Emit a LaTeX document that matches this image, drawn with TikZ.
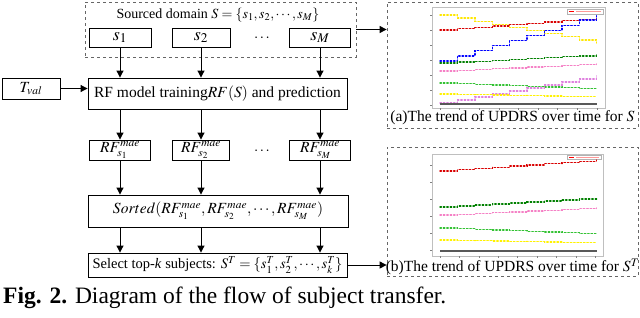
\documentclass[tikz,border=0pt]{standalone}
\usepackage{mathptmx}
\usepackage{fontspec}
\setmainfont{Liberation Serif}
\usetikzlibrary{arrows.meta}
\newcommand\mystair[4]{%
  \pgfmathsetmacro\dd{(#4-#3)/9}%
  \draw[#1] (#2,#3) \foreach \i in {1,...,9}{ -- ++(17.4,0) -- ++(0,\dd)};}
\begin{document}
\begin{tikzpicture}[x=1pt,y=-1pt,
  >={Triangle[length=7pt,width=7pt]},
  box/.style={draw, line width=0.9pt, inner sep=0pt, font=\fontsize{15.5}{17}\selectfont},
  dbox/.style={draw=gray!80!black, dashed, line width=0.8pt, inner sep=0pt},
  arr/.style={->, line width=1pt},
  frame/.style={draw=gray!50, fill=white, line width=0.6pt},
  ln/.style={line width=1.4pt, dotted, line cap=round},
  lns/.style={line width=1.1pt}]
\useasboundingbox (0,0) rectangle (640,317);
% source domain
\node[dbox, minimum width=271pt, minimum height=55pt] (src) at (220.5,29.5) {};
\node[font=\fontsize{14}{16}\selectfont] (srct) at (218,15) {Sourced domain $S=\{s_1,s_2,\cdots,s_M\}$};
\node[box, minimum width=62pt, minimum height=19pt, font=\fontsize{18}{20}\selectfont] (s1) at (120,37.5) {$s_1$};
\node[box, minimum width=58pt, minimum height=19pt, font=\fontsize{18}{20}\selectfont] (s2) at (201,37.5) {$s_2$};
\node[box, minimum width=61pt, minimum height=19pt, font=\fontsize{18}{20}\selectfont] (sM) at (320,37.5) {$s_M$};
\node[font=\fontsize{15}{17}\selectfont] (d1) at (262,38) {$\cdots$};
% T_val and RF
\node[box, minimum width=58pt, minimum height=21pt] (tv) at (31,88.5) {$T_{val}$};
\node[box, minimum width=259pt, minimum height=31pt] (rf) at (217.5,93.5) {RF model training$RF(S)$ and prediction};
% RF mae
\node[box, minimum width=61pt, minimum height=20pt] (r1) at (120,150) {$RF^{mae}_{s_1}$};
\node[box, minimum width=57pt, minimum height=20pt] (r2) at (201,150) {$RF^{mae}_{s_2}$};
\node[box, minimum width=61pt, minimum height=20pt] (rM) at (320,150) {$RF^{mae}_{s_M}$};
\node[font=\fontsize{15}{17}\selectfont] (d2) at (262,151) {$\cdots$};
\node[box, minimum width=260pt, minimum height=32pt] (so) at (218,211) {$Sorted(RF^{mae}_{s_1},RF^{mae}_{s_2},\cdots,RF^{mae}_{s_M})$};
\node[box, minimum width=259pt, minimum height=24pt, font=\fontsize{14.5}{16}\selectfont] (se) at (217.5,265) {Select top-\textit{k} subjects: $S^T=\{s_1^T,s_2^T,\cdots,s_k^T\}$};
% arrows
\foreach \a/\b in {s1/r1,s2/r2,sM/rM}{
  \draw[arr] (\a.south) -- (\a.south |- rf.north);
  \draw[arr] (\b.north |- rf.south) -- (\b.north);
  \draw[arr] (\b.south) -- (\b.south |- so.north);
  \draw[arr] (\b.south |- so.south) -- (\b.south |- se.north);
}
\draw[arr] (tv.east) -- (tv.east -| rf.west);
% panels
\node[dbox, minimum width=251pt, minimum height=126pt] (pa) at (512.5,65) {};
\node[dbox, minimum width=251pt, minimum height=129pt] (pb) at (512.5,211.5) {};
\draw[arr] (src.east) -- (src.east -| pa.west);
\draw[arr] (se.east) -- (se.east -| pb.west);
% chart a
\draw[frame] (432,7) rectangle (605,108);
\foreach \x in {440,459.6,479.2,498.8,518.4,538,557.6,577.2,597} \draw[gray] (\x,108) -- (\x,110);
\foreach \y in {15,30,45,60,75,90,105} \draw[gray] (432,\y) -- (430,\y);
\draw[gray!60, line width=0.4pt] (567,9) rectangle (603,14);
\draw[red, line width=0.8pt] (569,11.5) -- (574,11.5);
\draw[red!40, line width=1pt] (576,11.5) -- (601,11.5);
\mystair{ln, yellow!90!orange}{440}{15}{43}
\mystair{ln, red!85!black}{440}{30}{18}
\mystair{ln, blue}{440}{61}{15}
\mystair{ln, green!50!black}{440}{63}{55}
\mystair{ln, magenta!50}{440}{71}{64}
\mystair{ln, green!70!black!80}{440}{83}{89}
\mystair{ln, violet!50!magenta!50}{440}{103}{76}
\mystair{ln, yellow}{440}{94}{97}
\mystair{lns, gray!70!black}{440}{104}{104}
\node[font=\fontsize{15.5}{17}\selectfont] (ca) at (512.5,118) {(a)The trend of UPDRS over time for $S$};
% chart b
\draw[frame] (432,154) rectangle (603,256);
\foreach \x in {440,459.4,478.8,498.2,517.6,537,556.4,575.8,595} \draw[gray] (\x,256) -- (\x,258);
\foreach \y in {165,182,199,216,233,250} \draw[gray] (432,\y) -- (430,\y);
\draw[gray!60, line width=0.4pt] (567,155) rectangle (601,159.5);
\draw[red, line width=0.8pt] (569,157.3) -- (574,157.3);
\draw[red!40, line width=1pt] (576,157.3) -- (599,157.3);
\mystair{ln, red!85!black}{440}{171}{160}
\mystair{ln, green!50!black}{440}{207}{198}
\mystair{ln, magenta!50}{440}{215}{208}
\mystair{ln, green!70!black!80}{440}{228}{234}
\mystair{ln, yellow}{440}{240}{243}
\mystair{lns, gray!70!black}{440}{251}{251}
\node[font=\fontsize{15.5}{17}\selectfont] (cb) at (512.5,267) {(b)The trend of UPDRS over time for $S^T$};
% caption
\node[anchor=west, font=\fontsize{23.5}{25}\selectfont, inner sep=0pt] (cap) at (3,298) {\textbf{Fig. 2.} Diagram of the flow of subject transfer.};
\end{tikzpicture}
\end{document}
